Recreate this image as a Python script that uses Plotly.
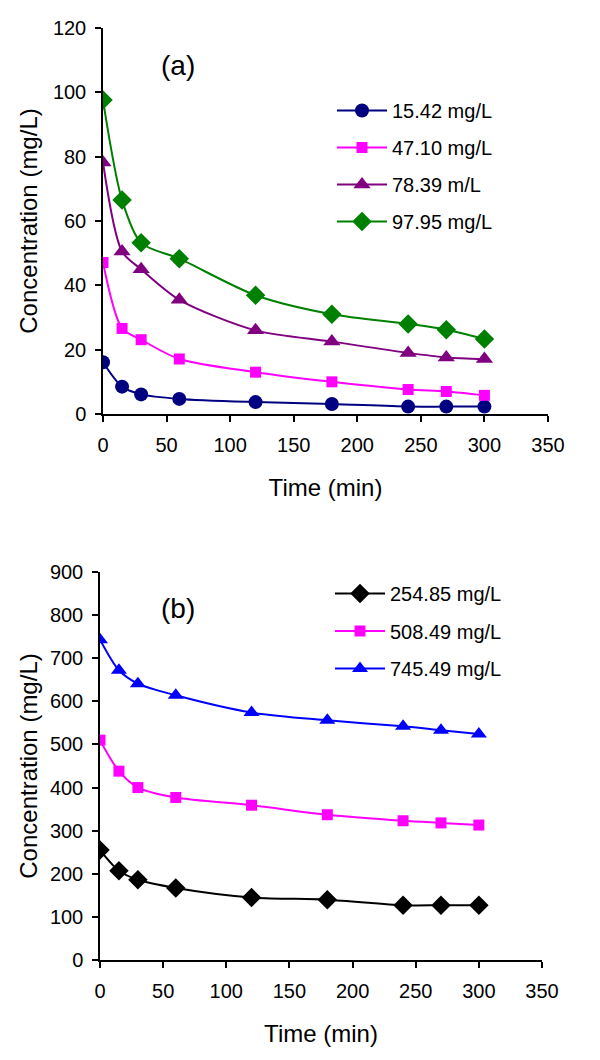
import plotly.graph_objects as go

# ---- data ----
time_min = [0, 15, 30, 60, 120, 180, 240, 270, 300]

# Panel (a)
labels_a = ["15.42 mg/L", "47.10 mg/L", "78.39 m/L", "97.95 mg/L"]
c_15_42 = [16.1, 8.5, 6.1, 4.7, 3.7, 3.1, 2.3, 2.3, 2.3]
c_47_10 = [47.1, 26.6, 23.1, 17.1, 13.0, 10.0, 7.6, 7.0, 5.8]
c_78_39 = [78.2, 50.5, 45.0, 35.5, 26.0, 22.5, 19.0, 17.6, 17.1]
c_97_95 = [97.6, 66.5, 53.2, 48.3, 36.9, 31.0, 28.0, 26.2, 23.3]

# Panel (b)
labels_b = ["254.85 mg/L", "508.49 mg/L", "745.49 mg/L"]
c_254_85 = [255, 207, 186, 167, 145, 140, 127, 127, 127]
c_508_49 = [510, 438, 400, 377, 359, 337, 323, 318, 313]
c_745_49 = [743, 672, 641, 614, 574, 556, 542, 533, 524]

FONT = "Liberation Sans, Arial, sans-serif"

fig = go.Figure()

styles_a = [
    ("#000080", "circle", 14),
    ("#FF00FF", "square", 11),
    ("#800080", "triangle-up", 15),
    ("#008000", "diamond", 15),
]
for i, (ys, lab, (col, sym, sz)) in enumerate(zip([c_15_42, c_47_10, c_78_39, c_97_95], labels_a, styles_a)):
    fig.add_trace(go.Scatter(
        x=time_min, y=ys, name=lab, mode="lines+markers",
        line=dict(color=col, width=2, shape="spline", smoothing=0.8),
        marker=dict(color=col, symbol=sym, size=sz),
        xaxis="x", yaxis="y", legend="legend", legendgroup=f"a{i}",
    ))

styles_b = [
    ("#000000", "diamond", 15),
    ("#FF00FF", "square", 11),
    ("#0000FF", "triangle-up", 14),
]
for i, (ys, lab, (col, sym, sz)) in enumerate(zip([c_254_85, c_508_49, c_745_49], labels_b, styles_b)):
    fig.add_trace(go.Scatter(
        x=time_min, y=ys, name=lab, mode="lines+markers",
        line=dict(color=col, width=2, shape="spline", smoothing=0.8),
        marker=dict(color=col, symbol=sym, size=sz),
        xaxis="x2", yaxis="y2", legend="legend2", legendgroup=f"b{i}",
    ))

# page has an 8px body margin, so the figure is 592x1052 and positions are shifted by 8px
W, H = 592, 1052
OFF = 8

def px_x(p):
    return (p - OFF) / W

def px_y(p):
    return 1 - (p - OFF) / H

axis_common = dict(
    showline=True, linecolor="black", linewidth=1.5, mirror=False,
    ticks="outside", ticklen=6, tickcolor="black", tickwidth=1.5,
    showgrid=False, zeroline=False, automargin=False,
    tickfont=dict(family=FONT, size=20, color="black"),
)
title_font = dict(family=FONT, size=24, color="black")

fig.update_layout(
    width=W, height=H,
    margin=dict(l=0, r=0, t=0, b=0),
    paper_bgcolor="white", plot_bgcolor="white",
    font=dict(family=FONT, color="black"),
    xaxis=dict(domain=[px_x(103), px_x(548)], range=[0, 350], dtick=50, anchor="y",
               ticklabelstandoff=6,
               title=dict(text="Time (min)", font=title_font, standoff=24),
               **axis_common),
    yaxis=dict(domain=[px_y(414), px_y(28)], range=[0, 120], dtick=20, anchor="x",
               ticklabelstandoff=5,
               title=dict(text="Concentration (mg/L)", font=title_font, standoff=8),
               **axis_common),
    xaxis2=dict(domain=[px_x(100), px_x(542)], range=[0, 350], dtick=50, anchor="y2",
                ticklabelstandoff=6,
                title=dict(text="Time (min)", font=title_font, standoff=24),
                **axis_common),
    yaxis2=dict(domain=[px_y(960), px_y(572)], range=[0, 900], dtick=100, anchor="x2",
                ticklabelstandoff=5,
                title=dict(text="Concentration (mg/L)", font=title_font, standoff=5),
                **axis_common),
    legend=dict(x=px_x(332), y=px_y(91), xanchor="left", yanchor="top",
                font=dict(family=FONT, size=20), tracegroupgap=8,
                bgcolor="rgba(0,0,0,0)", itemwidth=50),
    legend2=dict(x=px_x(330), y=px_y(574), xanchor="left", yanchor="top",
                 font=dict(family=FONT, size=20), tracegroupgap=8.5,
                 bgcolor="rgba(0,0,0,0)", itemwidth=50),
    annotations=[
        dict(text="(a)", x=px_x(178), y=px_y(65), xref="paper", yref="paper",
             xanchor="center", yanchor="middle",
             showarrow=False, font=dict(family=FONT, size=28)),
        dict(text="(b)", x=px_x(178), y=px_y(608), xref="paper", yref="paper",
             xanchor="center", yanchor="middle",
             showarrow=False, font=dict(family=FONT, size=28)),
    ],
)

fig.write_html("out.html")
